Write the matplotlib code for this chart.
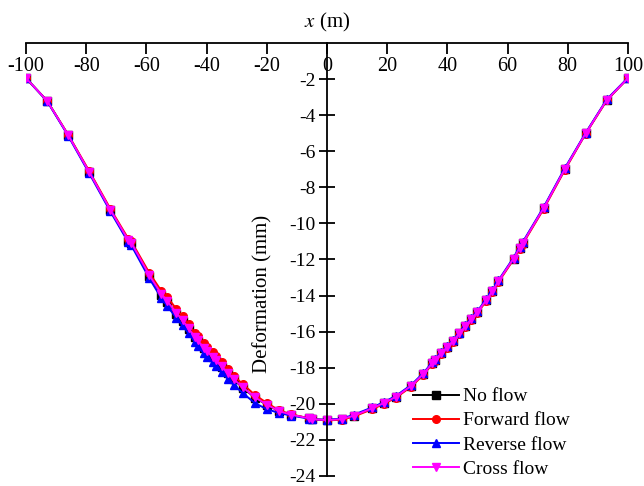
import matplotlib.pyplot as plt
import numpy as np

plt.rcParams['font.family'] = ['Liberation Serif', 'DejaVu Serif']
plt.rcParams['mathtext.fontset'] = 'stix'

x_nodes = [-100, -93, -86, -79, -72, -66, -65, -59, -55, -53,
           -50, -48, -46, -44, -43, -41, -40, -38, -37, -35,
           -33, -31, -28, -24, -20, -16, -12, -6, -5, 0,
           5, 9, 15, 19, 23, 28, 32, 35, 36, 38,
           40, 42, 44, 46, 48, 50, 53, 55, 57, 62,
           64, 65, 72, 79, 86, 93, 100]

no_flow = [-1.95, -3.20, -5.10, -7.15, -9.25, -10.95, -11.10, -12.90, -13.95, -14.35,
           -15.00, -15.40, -15.85, -16.30, -16.50, -16.90, -17.10, -17.40, -17.60, -17.95,
           -18.30, -18.65, -19.10, -19.65, -20.05, -20.40, -20.60, -20.80, -20.85, -20.90,
           -20.85, -20.65, -20.25, -19.95, -19.60, -19.00, -18.35, -17.75, -17.55, -17.20,
           -16.85, -16.50, -16.10, -15.70, -15.30, -14.90, -14.25, -13.75, -13.20, -11.95,
           -11.35, -11.10, -9.15, -7.00, -5.00, -3.15, -1.95]

forward_flow = [-1.95, -3.20, -5.08, -7.10, -9.18, -10.85, -11.00, -12.75, -13.75, -14.10,
                -14.75, -15.15, -15.60, -16.05, -16.25, -16.65, -16.85, -17.15, -17.35, -17.70,
                -18.05, -18.45, -18.90, -19.50, -19.95, -20.35, -20.58, -20.80, -20.85, -20.92,
                -20.88, -20.70, -20.30, -20.00, -19.65, -19.05, -18.40, -17.80, -17.60, -17.25,
                -16.90, -16.55, -16.15, -15.75, -15.35, -14.95, -14.30, -13.80, -13.25, -12.00,
                -11.40, -11.15, -9.20, -7.05, -5.02, -3.18, -1.95]

reverse_flow = [-1.95, -3.22, -5.14, -7.22, -9.33, -11.05, -11.22, -13.05, -14.15, -14.60,
                -15.25, -15.65, -16.10, -16.55, -16.80, -17.20, -17.40, -17.70, -17.90, -18.25,
                -18.60, -18.95, -19.40, -19.95, -20.30, -20.50, -20.65, -20.82, -20.86, -20.88,
                -20.82, -20.60, -20.20, -19.90, -19.55, -18.95, -18.30, -17.70, -17.50, -17.15,
                -16.80, -16.45, -16.05, -15.65, -15.25, -14.85, -14.20, -13.70, -13.15, -11.90,
                -11.30, -11.05, -9.10, -6.95, -4.97, -3.12, -1.93]

cross_flow = [-1.95, -3.20, -5.10, -7.15, -9.24, -10.93, -11.08, -12.88, -13.92, -14.32,
              -14.97, -15.37, -15.82, -16.27, -16.48, -16.88, -17.08, -17.38, -17.58, -17.93,
              -18.28, -18.63, -19.08, -19.63, -20.04, -20.40, -20.60, -20.80, -20.85, -20.90,
              -20.85, -20.65, -20.25, -19.95, -19.60, -19.00, -18.35, -17.75, -17.55, -17.20,
              -16.85, -16.50, -16.10, -15.70, -15.30, -14.90, -14.25, -13.75, -13.20, -11.95,
              -11.35, -11.10, -9.15, -7.00, -5.00, -3.15, -1.95]

series = [
    ("No flow", no_flow, "#000000", "s"),
    ("Forward flow", forward_flow, "#ff0000", "o"),
    ("Reverse flow", reverse_flow, "#0000ff", "^"),
    ("Cross flow", cross_flow, "#ff00ff", "v"),
]

x_ticks = [-100, -80, -60, -40, -20, 0, 20, 40, 60, 80, 100]
y_ticks = [-24, -22, -20, -18, -16, -14, -12, -10, -8, -6, -4, -2]

fig = plt.figure(figsize=(6.44, 4.86), dpi=100)
ax = fig.add_axes([0.0404, 0.0206, 0.9346, 0.8909])

for name, vals, col, mk in series:
    ax.plot(x_nodes, vals, color=col, marker=mk, markersize=5.5, lw=1.4, label=name)

ax.set_xlim(-100, 100)
ax.set_ylim(-24, 0)

# x axis drawn along y=0 (top), y axis along x=0
ax.spines['bottom'].set_position(('data', 0))
ax.spines['left'].set_position(('data', 0))
ax.spines['top'].set_visible(False)
ax.spines['right'].set_visible(False)
for s in ('bottom', 'left'):
    ax.spines[s].set_linewidth(1.3)

ax.set_xticks(x_ticks)
ax.set_xticklabels([str(t) for t in x_ticks])
ax.set_yticks(y_ticks)
ax.set_yticklabels([str(t) for t in y_ticks])
ax.tick_params(axis='x', direction='out', length=8, width=1.3, labelsize=14.5, pad=2)
ax.tick_params(axis='y', direction='inout', length=12, width=1.3, labelsize=14, pad=2)

ax.text(0.394, 0.42, "Deformation (mm)", transform=ax.transAxes, rotation=90,
        ha='center', va='center', fontsize=15)
fig.text(327 / 644, 1 - 22 / 486, r"$x$ (m)", ha='center', va='center', fontsize=15)

leg = ax.legend(loc='lower left', bbox_to_anchor=(0.62, -0.035), frameon=False,
                fontsize=14, handlelength=2.4, handletextpad=0.2, labelspacing=0.33,
                borderpad=0.2)

fig.savefig("out.png", dpi=100)
